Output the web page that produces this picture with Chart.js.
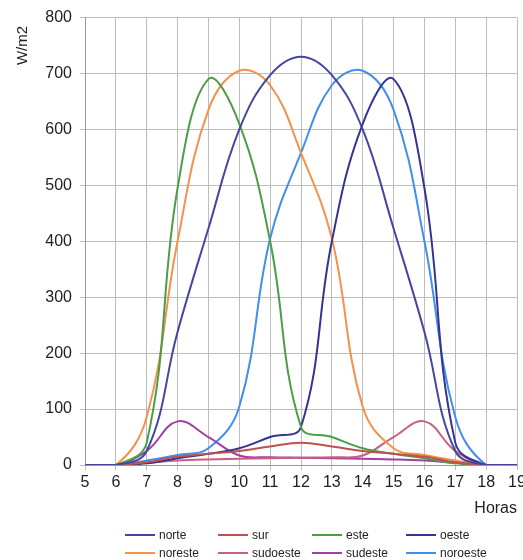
<!DOCTYPE html>
<html>
<head>
<meta charset="utf-8">
<script src="https://cdn.jsdelivr.net/npm/chart.js@4.4.1/dist/chart.umd.min.js"></script>
<style>
  html, body { margin: 0; padding: 0; background: #fff; }
  #wrap { width: 523px; height: 560px; }
</style>
</head>
<body>
<div id="wrap"><canvas id="chart" width="523" height="560"></canvas></div>
<script>
// horas del dia
const horas = [5, 6, 7, 8, 9, 10, 11, 12, 13, 14, 15, 16, 17, 18, 19];

// radiacion por orientacion (W/m2)
const norte    = [0, 0, 25, 238, 423, 600, 697, 730, 697, 600, 423, 238, 25, 0, 0];
const sur      = [0, 0, 5, 15, 20, 25, 33, 40, 33, 25, 20, 15, 5, 0, 0];
const este     = [0, 0, 40, 495, 690, 610, 400, 68, 50, 30, 20, 12, 3, 0, 0];
const oeste    = [0, 0, 3, 12, 20, 30, 50, 68, 400, 610, 690, 495, 40, 0, 0];
const noreste  = [0, 0, 86, 400, 635, 705, 679, 558, 405, 104, 30, 18, 8, 0, 0];
const sudoeste = [0, 0, 4, 8, 10, 11, 12, 13, 14, 17, 50, 78, 25, 0, 0];
const sudeste  = [0, 0, 25, 78, 50, 17, 14, 13, 12, 11, 10, 8, 4, 0, 0];
const noroeste = [0, 0, 8, 18, 30, 104, 405, 558, 679, 705, 635, 400, 86, 0, 0];

const series = [
    { label: 'norte', data: norte, color: '#4646a0' },
    { label: 'sur', data: sur, color: '#c0504d' },
    { label: 'este', data: este, color: '#4a9e46' },
    { label: 'oeste', data: oeste, color: '#343494' },
    { label: 'noreste', data: noreste, color: '#f7904a' },
    { label: 'sudoeste', data: sudoeste, color: '#c8607e' },
    { label: 'sudeste', data: sudeste, color: '#a23ea6' },
    { label: 'noroeste', data: noroeste, color: '#3f8ff0' }
];

const FONT = 'Liberation Sans, Arial, sans-serif';

// leyenda en rejilla de 4 columnas
const gridLegend = {
    id: 'gridLegend',
    afterDraw(chart) {
        const ctx = chart.ctx;
        const cols = [125, 218, 312, 406];
        const rows = [535, 553];
        ctx.save();
        ctx.font = '12px ' + FONT;
        ctx.textBaseline = 'middle';
        chart.data.datasets.forEach((ds, i) => {
            const x = cols[i % 4];
            const y = rows[Math.floor(i / 4)];
            ctx.strokeStyle = ds.borderColor;
            ctx.lineWidth = 2;
            ctx.beginPath();
            ctx.moveTo(x, y);
            ctx.lineTo(x + 30, y);
            ctx.stroke();
            ctx.fillStyle = '#222';
            ctx.fillText(ds.label, x + 34, y + 1);
        });
        ctx.restore();
    }
};

const ctx = document.getElementById('chart').getContext('2d');
new Chart(ctx, {
    type: 'line',
    data: {
        datasets: series.map(s => ({
            label: s.label,
            data: horas.map((h, i) => ({ x: h, y: s.data[i] })),
            borderColor: s.color,
            backgroundColor: s.color,
            borderWidth: 2,
            pointRadius: 0,
            tension: 0.4,
            fill: false
        }))
    },
    options: {
        responsive: false,
        animation: false,
        layout: { padding: { left: 0, right: 6, top: 15, bottom: 42 } },
        plugins: {
            legend: { display: false },
            tooltip: { enabled: false }
        },
        scales: {
            x: {
                type: 'linear',
                min: 5,
                max: 19,
                ticks: { stepSize: 1, color: '#222', padding: 3, font: { family: FONT, size: 16 } },
                grid: { color: '#bdbdbd', tickLength: 5 },
                border: { color: '#999' },
                title: {
                    display: true, text: 'Horas', align: 'end', color: '#222',
                    font: { family: FONT, size: 16 }, padding: { top: 4, bottom: 0 }
                },
                afterFit(scale) { scale.height = 53; scale.paddingRight = 6; }
            },
            y: {
                min: 0,
                max: 800,
                ticks: { stepSize: 100, color: '#222', padding: 8, font: { family: FONT, size: 16 } },
                grid: { color: '#bdbdbd', tickLength: 5 },
                border: { color: '#999' },
                title: {
                    display: true, text: 'W/m2  ', align: 'end', color: '#222',
                    font: { family: FONT, size: 15 }, padding: { top: 14, bottom: 0 }
                },
                afterFit(scale) { scale.width = 85; }
            }
        }
    },
    plugins: [gridLegend]
});
</script>
</body>
</html>
